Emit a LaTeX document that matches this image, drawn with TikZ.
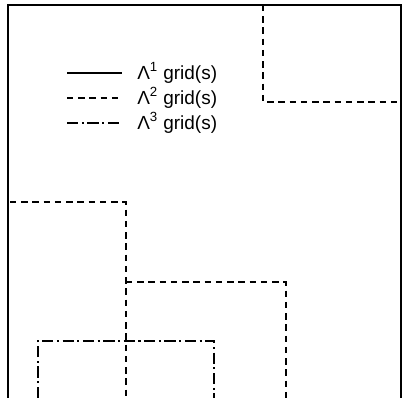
\documentclass[tikz,border=0pt]{standalone}
\usepackage{fontspec}
\setmainfont{Liberation Sans}
\usetikzlibrary{positioning}

\begin{document}
\begin{tikzpicture}[x=0.25mm, y=-0.25mm,
  every node/.style={font=\fontsize{13.5}{15}\selectfont},
  gridone/.style={line width=1pt, black},
  gridtwo/.style={line width=1pt, black, dash pattern=on 4.5pt off 3.5pt},
  gridthree/.style={line width=1pt, black, dash pattern=on 8pt off 2.5pt on 1.5pt off 2.5pt},
  legtext/.style={anchor=west, inner sep=0pt},
]
  \useasboundingbox (0,0) rectangle (406,398);

  % outer domain
  \draw[gridone] (8,398) -- (8,5) -- (401,5) -- (401,398);

  % legend
  \node[legtext] (lone) at (137,73) {Λ\textsuperscript{1} grid(s)};
  \node[legtext] (ltwo) at (137,98) {Λ\textsuperscript{2} grid(s)};
  \node[legtext] (lthree) at (137,123) {Λ\textsuperscript{3} grid(s)};
  \coordinate (sone) at (67,73);
  \coordinate (stwo) at (67,98);
  \coordinate (sthree) at (67,123);
  \draw[gridone] (sone) -- ++(55,0);
  \draw[gridtwo] (stwo) -- ++(55,0);
  \draw[gridthree] (sthree) -- ++(55,0);

  % level 2 grids
  \draw[gridtwo] (263,5) -- (263,102) -- (401,102);
  \draw[gridtwo] (10,202) -- (126,202) -- (126,398);
  \draw[gridtwo] (126,282) -- (286,282) -- (286,398);

  % level 3 grid
  \draw[gridthree] (38,398) -- (38,341) -- (214,341) -- (214,398);
\end{tikzpicture}
\end{document}
